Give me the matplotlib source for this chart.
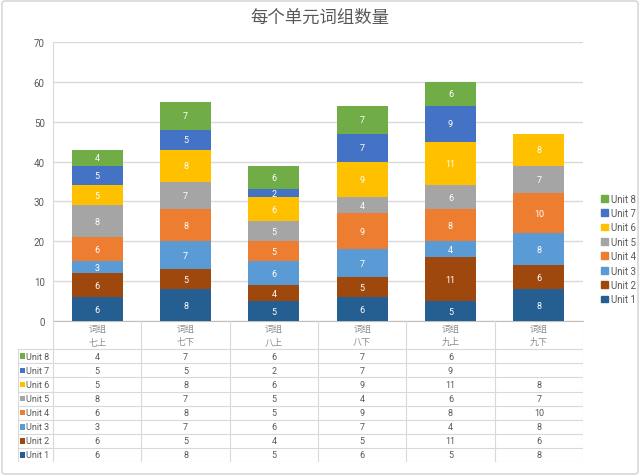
import numpy as np
import matplotlib
matplotlib.use("Agg")
import matplotlib.pyplot as plt
from matplotlib.patches import Rectangle, FancyBboxPatch

plt.rcParams["font.family"] = ["Roboto", "Noto Sans CJK SC", "DejaVu Sans"]

# 数据
title = "每个单元词组数量"
categories = ["词组\n七上", "词组\n七下", "词组\n八上", "词组\n八下", "词组\n九上", "词组\n九下"]
units = ["Unit 1", "Unit 2", "Unit 3", "Unit 4", "Unit 5", "Unit 6", "Unit 7", "Unit 8"]
unit1 = [6, 8, 5, 6, 5, 8]
unit2 = [6, 5, 4, 5, 11, 6]
unit3 = [3, 7, 6, 7, 4, 8]
unit4 = [6, 8, 5, 9, 8, 10]
unit5 = [8, 7, 5, 4, 6, 7]
unit6 = [5, 8, 6, 9, 11, 8]
unit7 = [5, 5, 2, 7, 9, None]
unit8 = [4, 7, 6, 7, 6, None]
series = [unit1, unit2, unit3, unit4, unit5, unit6, unit7, unit8]
colors = ["#255E91", "#9E480E", "#5B9BD5", "#ED7D31", "#A5A5A5", "#FFC000", "#4472C4", "#70AD47"]

W, H = 640, 477
fig = plt.figure(figsize=(W / 100, H / 100), dpi=100)
fig.patch.set_facecolor("white")
fig.patches.append(FancyBboxPatch((2 / W, 2 / H), 1 - 4 / W, 1 - 4 / H, boxstyle="round,pad=0,rounding_size=0.005",
                                  transform=fig.transFigure, fill=False, edgecolor="#d0d0d0", linewidth=1))

txt = "#595959"
grid = "#d9d9d9"
x0, x1 = 53, 583          # plot area, pixels
y_top, y_zero = 43, 322
ax = fig.add_axes([x0 / W, 1 - y_zero / H, (x1 - x0) / W, (y_zero - y_top) / H])
n = len(categories)
xs = np.arange(n)
bottom = np.zeros(n)
for vals, c in zip(series, colors):
    v = np.array([np.nan if a is None else a for a in vals], dtype=float)
    vv = np.nan_to_num(v)
    ax.bar(xs, vv, bottom=bottom, width=0.58, color=c, zorder=3)
    for i in range(n):
        if not np.isnan(v[i]):
            ax.text(xs[i], bottom[i] + vv[i] / 2, f"{int(v[i])}", ha="center", va="center",
                    color="white", fontsize=6.5, zorder=4)
    bottom += vv
ax.set_xlim(-0.5, n - 0.5)
ax.set_ylim(0, 70)
ax.set_yticks(range(0, 71, 10))
ax.yaxis.grid(True, color=grid, linewidth=1, zorder=0)
ax.set_xticks([])
for s in ["top", "right"]:
    ax.spines[s].set_visible(False)
ax.spines["left"].set_color(grid)
ax.spines["bottom"].set_color("#bfbfbf")
ax.tick_params(axis="y", length=0, labelsize=7, labelcolor=txt, pad=6)
fig.text(0.5, 1 - 18 / H, title, ha="center", va="center", fontsize=12.5, color=txt)

# 数据表
t_left, t_bottom = 18, 463
unit_w = (x1 - x0) / n
tx = fig.add_axes([t_left / W, 1 - t_bottom / H, (x1 - t_left) / W, (t_bottom - y_zero) / H])
lab_x = -0.5 - (x0 - t_left) / unit_w
tx.set_xlim(lab_x, n - 0.5)
nrow = len(units)
tx.set_ylim(nrow + 2, 0)
tx.axis("off")
for i in range(n + 1):
    tx.plot([i - 0.5, i - 0.5], [0, nrow + 2], color=grid, lw=0.8)
tx.plot([lab_x, lab_x], [2, nrow + 2], color=grid, lw=0.8)
for r in range(nrow + 1):
    tx.plot([lab_x, n - 0.5], [2 + r, 2 + r], color=grid, lw=0.8)
for i, c in enumerate(categories):
    tx.text(i, 1, c, ha="center", va="center", fontsize=6.5, color="#8c8c8c", linespacing=1.5)
for r, k in enumerate(range(nrow - 1, -1, -1)):
    yc = 2 + r + 0.5
    tx.add_patch(Rectangle((lab_x + 0.025, yc - 0.2), 0.055, 0.4, color=colors[k], lw=0))
    tx.text(lab_x + 0.095, yc, units[k], ha="left", va="center", fontsize=6.5, color=txt)
    for i in range(n):
        v = series[k][i]
        if v is not None:
            tx.text(i, yc, str(v), ha="center", va="center", fontsize=6.5, color=txt)

# 图例
handles = [Rectangle((0, 0), 1, 1, color=colors[k]) for k in range(nrow - 1, -1, -1)]
fig.legend(handles, [units[k] for k in range(nrow - 1, -1, -1)], loc="center left",
           bbox_to_anchor=(592 / W, 1 - 250 / H), frameon=False, fontsize=7,
           handlelength=0.7, handleheight=0.7, handletextpad=0.4, labelspacing=0.45,
           labelcolor=txt)

fig.savefig("out.png", dpi=100, facecolor="white")
